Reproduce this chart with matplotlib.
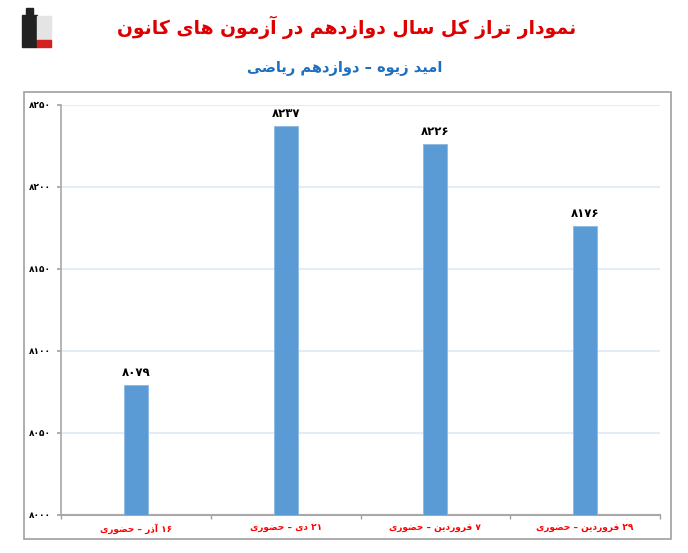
import matplotlib
matplotlib.use("Agg")
import matplotlib.pyplot as plt
from matplotlib.patches import Rectangle

# chart data
title = "نمودار تراز کل سال دوازدهم در آزمون های کانون"
subtitle = "امید زیوه – دوازدهم ریاضی"
categories = ["۱۶ آذر – حضوری", "۲۱ دی – حضوری", "۷ فروردین – حضوری", "۲۹ فروردین – حضوری"]
values = [8079, 8237, 8226, 8176]
yticks = [8000, 8050, 8100, 8150, 8200, 8250]

# minimal arabic/persian shaping (matplotlib has no text shaping)
# letter: (isolated, final, initial, medial); 2-tuple = joins only to the right
FORMS = {
    "ا": ("\uFE8D", "\uFE8E"), "آ": ("\uFE81", "\uFE82"),
    "د": ("\uFEA9", "\uFEAA"), "ذ": ("\uFEAB", "\uFEAC"),
    "ر": ("\uFEAD", "\uFEAE"), "ز": ("\uFEAF", "\uFEB0"),
    "و": ("\uFEED", "\uFEEE"),
    "ت": ("\uFE95", "\uFE96", "\uFE97", "\uFE98"),
    "ح": ("\uFEA1", "\uFEA2", "\uFEA3", "\uFEA4"),
    "س": ("\uFEB1", "\uFEB2", "\uFEB3", "\uFEB4"),
    "ض": ("\uFEBD", "\uFEBE", "\uFEBF", "\uFEC0"),
    "ف": ("\uFED1", "\uFED2", "\uFED3", "\uFED4"),
    "ل": ("\uFEDD", "\uFEDE", "\uFEDF", "\uFEE0"),
    "م": ("\uFEE1", "\uFEE2", "\uFEE3", "\uFEE4"),
    "ن": ("\uFEE5", "\uFEE6", "\uFEE7", "\uFEE8"),
    "ه": ("\uFEE9", "\uFEEA", "\uFEEB", "\uFEEC"),
    "ک": ("\uFB8E", "\uFB8F", "\uFB90", "\uFB91"),
    "ی": ("\uFBFC", "\uFBFD", "\uFBFE", "\uFBFF"),
}


def shape(s):
    out = []
    for i, ch in enumerate(s):
        if ch not in FORMS:
            out.append(ch)
            continue
        prev = s[i - 1] if i > 0 else ""
        nxt = s[i + 1] if i + 1 < len(s) else ""
        jp = prev in FORMS and len(FORMS[prev]) == 4
        jn = len(FORMS[ch]) == 4 and nxt in FORMS
        f = FORMS[ch]
        if jp and jn:
            out.append(f[3])
        elif jp:
            out.append(f[1])
        elif jn:
            out.append(f[2])
        else:
            out.append(f[0])
    vis = "".join(out)[::-1]
    # put digit runs back in reading order
    res, run = "", ""
    for ch in vis:
        if "\u06F0" <= ch <= "\u06F9":
            run += ch
        else:
            res += run[::-1] + ch
            run = ""
    return res + run[::-1]


def fa_num(n):
    return "".join(chr(0x06F0 + int(d)) for d in str(n))


plt.rcParams['font.family'] = ['DejaVu Sans']

fig = plt.figure(figsize=(6.88, 5.53), dpi=100)
W, H = 688, 553


def box(x0, y0, x1, y1, **kw):
    # rectangle in pixel coords (y from top)
    fig.patches.append(Rectangle((x0 / W, 1 - y1 / H), (x1 - x0) / W, (y1 - y0) / H,
                                 transform=fig.transFigure, **kw))


# outer chart frame
box(24, 92, 671, 539, fill=False, edgecolor="#a0a0a0", linewidth=1.2)

# small logo at top-left (rough)
box(22, 15, 37, 47, color="#222222")
box(26, 8, 33, 15, color="#222222")
box(37, 16, 51, 40, color="#e4e4e4")
box(37, 40, 51, 47, color="#d42020")

ax = fig.add_axes([61 / W, 1 - 515 / H, (660 - 61) / W, (515 - 105) / H])
x = list(range(len(values)))
bars = ax.bar(x, values, width=0.16, color="#5b9bd5", edgecolor="#8db8e3",
              linewidth=0.6, zorder=3)
ax.set_ylim(8000, 8250)
ax.set_xlim(-0.5, len(values) - 0.5)
ax.set_yticks(yticks)
ax.set_yticklabels([fa_num(v) for v in yticks], fontsize=6.5, fontweight="bold")
ax.grid(axis="y", color="#e3edf8", linewidth=1.6, zorder=0)

ax.set_xticks(x)
ax.set_xticklabels([shape(c) for c in categories], fontsize=6.5, color="red",
                   fontweight="bold")
ax.tick_params(axis="x", length=0, pad=6)
ax.set_xticks([i + 0.5 for i in range(-1, len(values))], minor=True)
ax.tick_params(axis="x", which="minor", length=3, color="#a0a0a0", width=1)
ax.tick_params(axis="y", length=3, color="#a0a0a0", width=1.2, pad=4)

for s in ["top", "right"]:
    ax.spines[s].set_visible(False)
ax.spines["left"].set_color("#a8a8a8")
ax.spines["bottom"].set_color("#a8a8a8")
ax.spines["left"].set_linewidth(1.2)
ax.spines["bottom"].set_linewidth(1.5)

for b, v in zip(bars, values):
    ax.text(b.get_x() + b.get_width() / 2, v + 4, fa_num(v), ha="center",
            va="bottom", fontsize=8.5, fontweight="bold", color="black")

fig.text(347 / W, 1 - 27 / H, shape(title), ha="center", va="center",
         fontsize=13.5, fontweight="bold", color="#dd0000")
fig.text(345 / W, 1 - 69 / H, shape(subtitle), ha="center", va="center",
         fontsize=10.5, fontweight="bold", color="#1f6fc0")

fig.savefig("out.png", dpi=100)
